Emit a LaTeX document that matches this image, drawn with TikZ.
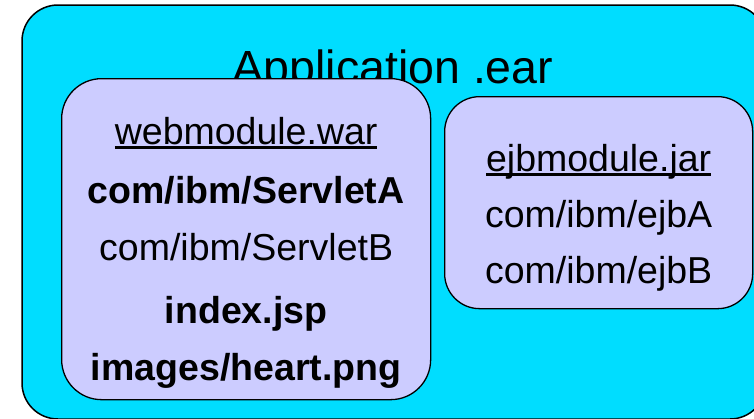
\documentclass[tikz,border=0pt]{standalone}
\usepackage{fontspec}
\setmainfont{Liberation Sans}
\usetikzlibrary{positioning,calc}

\definecolor{earcyan}{RGB}{0,221,255}
\definecolor{modlilac}{RGB}{204,204,255}

% underlined module name, rule at a fixed depth
\newcommand{\ulname}[1]{\setbox0=\hbox{#1}\rlap{\rule[-0.13em]{\wd0}{0.075em}}\box0}

\tikzset{
  earbox/.style={draw=black, line width=1.5pt, fill=earcyan, rounded corners=36pt},
  modbox/.style={draw=black, line width=1.3pt, fill=modlilac, anchor=north west, inner sep=0pt},
  entry/.style={anchor=base, inner sep=0pt, font=\fontsize{37.5}{40}\selectfont},
}

\begin{document}
\begin{tikzpicture}[x=1pt,y=-1pt]
  \useasboundingbox (0,0) rectangle (754,418);
  \clip (0,0) rectangle (754,418);

  %% the ear
  \draw[earbox] (22,5) rectangle (766,419);
  \node [anchor=base, inner sep=0pt, font=\fontsize{46.5}{50}\selectfont] (eartitle) at (393,83) {Application .ear};

  %% the two modules
  \node [modbox, rounded corners=40pt, minimum width=369pt, minimum height=321pt] (warbox) at (61,78) {};
  \node [modbox, rounded corners=35pt, minimum width=308pt, minimum height=212pt] (jarbox) at (444,96) {};

  %% web module
  \node [entry] (warhead) at ($(warbox.north)+(0,66)$) {\ulname{webmodule.war}};
  \node [entry] (servleta) at ($(warbox.north)+(0,125)$) {\bfseries com/ibm/ServletA};
  \node [entry] (servletb) at ($(warbox.north)+(0,182)$) {com/ibm/ServletB};
  \node [entry] (indexjsp) at ($(warbox.north)+(0,245)$) {\bfseries index.jsp};
  \node [entry] (heartpng) at ($(warbox.north)+(0,302)$) {\bfseries images/heart.png};

  %% ejb module
  \node [entry] (jarhead) at ($(jarbox.north)+(0,75)$) {\ulname{ejbmodule.jar}};
  \node [entry] (ejba) at ($(jarbox.north)+(0,131)$) {com/ibm/ejbA};
  \node [entry] (ejbb) at ($(jarbox.north)+(0,187)$) {com/ibm/ejbB};

\end{tikzpicture}
\end{document}
